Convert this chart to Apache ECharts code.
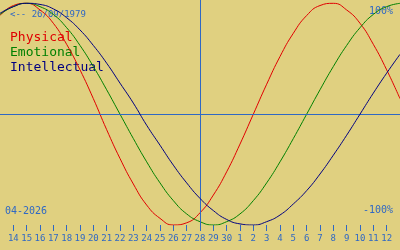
<!DOCTYPE html>
<html><head><meta charset="utf-8">
<script src="https://cdn.jsdelivr.net/npm/echarts@6/dist/echarts.min.js"></script>
<style>html,body{margin:0;padding:0;background:#E0D080;}#c{width:400px;height:250px;}</style>
</head><body><div id="c"></div>
<script>
var days = ['13','14','15','16','17','18','19','20','21','22','23','24','25','26','27','28','29','30','1','2','3','4','5','6','7','8','9','10','11','12','13'];
var physical = [89,98,100,94,82,63,40,14,-14,-40,-63,-82,-94,-100,-98,-89,-73,-52,-27,0,27,52,73,89,98,100,94,82,63,40,14];
var emotional = [90,97,100,97,90,78,62,43,22,0,-22,-43,-62,-78,-90,-97,-100,-97,-90,-78,-62,-43,-22,0,22,43,62,78,90,97,100];
var intellectual = [91,97,100,99,95,87,76,62,46,28,10,-10,-28,-46,-62,-76,-87,-95,-99,-100,-97,-91,-81,-69,-54,-37,-19,0,19,37,54];
var todayLabel = '28';
var birthText = '<-- 26/09/1979';
var monthText = '04-2026';
var topText = '100%';
var bottomText = '-100%';
var names = ['Physical','Emotional','Intellectual'];
var colors = ['#E00000','#008000','#000080'];
var accent = '#2F68C4';
var mono = '"DejaVu Sans Mono", "Liberation Mono", monospace';

var chart = echarts.init(document.getElementById('c'), null, {renderer:'canvas'});
function showTick(i){ return i > 0 && i < days.length - 1; }
var seriesData = [physical, emotional, intellectual];
var series = seriesData.map(function(d, i){
  return {type:'line', name:names[i], data:d, smooth:true, showSymbol:false, symbol:'none',
    lineStyle:{color:colors[i], width:1}, itemStyle:{color:colors[i]}, animation:false, z: 3 + i};
});
series[0].markLine = {silent:true, symbol:'none', animation:false, label:{show:false},
  lineStyle:{color:accent, width:1, type:'solid'},
  data:[{xAxis: days.indexOf(todayLabel, 1)}, {yAxis: 0}]};

chart.setOption({
  backgroundColor:'#E0D080',
  animation:false,
  grid:{left:0, right:0, top:0, bottom:25, containLabel:false},
  xAxis:{type:'category', data:days, boundaryGap:false,
    axisLine:{show:false, onZero:false},
    axisTick:{show:true, interval:function(i){return showTick(i);}, length:6, lineStyle:{color:accent, width:1}},
    axisLabel:{show:true, interval:function(i){return showTick(i);}, margin:9, fontSize:9, fontFamily:mono, color:accent},
    splitLine:{show:false}},
  yAxis:{type:'value', min:-100, max:103, show:false, splitLine:{show:false}},
  series: series,
  graphic:[
    {type:'text', left:10, top:10, style:{text:birthText, fill:accent, font:'9px ' + mono}},
    {type:'text', left:10, top:31, style:{text:names[0], fill:colors[0], font:'13px ' + mono}},
    {type:'text', left:10, top:46, style:{text:names[1], fill:colors[1], font:'13px ' + mono}},
    {type:'text', left:10, top:61, style:{text:names[2], fill:colors[2], font:'13px ' + mono}},
    {type:'text', right:7, top:6, style:{text:topText, fill:accent, font:'10px ' + mono}},
    {type:'text', right:7, top:205, style:{text:bottomText, fill:accent, font:'10px ' + mono}},
    {type:'text', left:5, top:206, style:{text:monthText, fill:accent, font:'10px ' + mono}}
  ]
});
</script></body></html>
